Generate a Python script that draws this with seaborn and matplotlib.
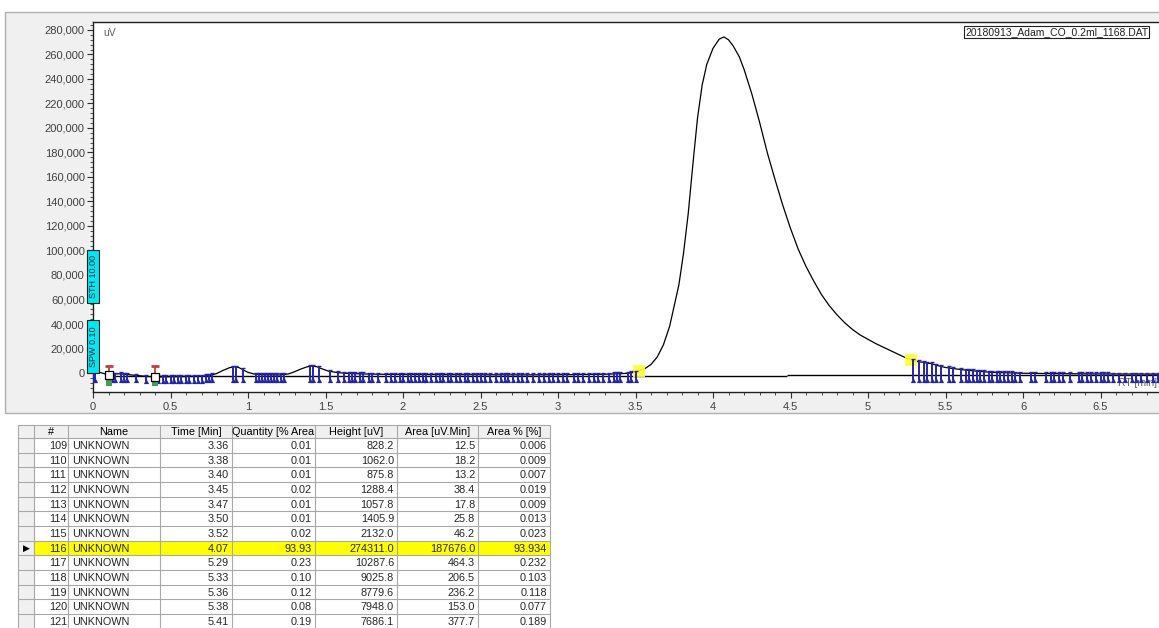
import numpy as np
import pandas as pd
import matplotlib
matplotlib.use("Agg")
import matplotlib.pyplot as plt
import seaborn as sns
from matplotlib.patches import Rectangle
from matplotlib.ticker import MultipleLocator, FuncFormatter

# ---------------- data ----------------
trace_time = [0.00, 0.02, 0.05, 0.08, 0.10, 0.13, 0.16, 0.20, 0.25, 0.30, 0.35, 0.40, 0.45,
              0.50, 0.60, 0.70, 0.76, 0.80, 0.84, 0.88, 0.91, 0.94, 0.97, 1.00, 1.04, 1.10,
              1.20, 1.26, 1.30, 1.34, 1.38, 1.41, 1.44, 1.48, 1.52, 1.58, 1.65, 1.75, 1.90,
              2.10, 2.40, 2.80, 3.10, 3.30, 3.40, 3.46, 3.50, 3.52,
              3.56, 3.60, 3.64, 3.68, 3.72, 3.75, 3.78, 3.81, 3.84, 3.87, 3.90, 3.93, 3.96,
              4.00, 4.04, 4.07, 4.10, 4.13, 4.17, 4.20, 4.25, 4.30, 4.35, 4.40, 4.45, 4.50,
              4.55, 4.60, 4.65, 4.70, 4.75, 4.80, 4.85, 4.90, 4.95, 5.00, 5.05, 5.10, 5.15,
              5.20, 5.25, 5.29,
              5.33, 5.36, 5.38, 5.41, 5.45, 5.50, 5.60, 5.70, 5.80, 6.00, 6.30, 6.60, 6.90]
trace_uv = [2000, 1000, 300, -800, -1500, -1000, -600, -900, -1600, -2200, -2800, -3200, -3200,
            -3000, -2900, -2700, -2000, -300, 2200, 4300, 5100, 4500, 2500, 500, -800, -1400,
            -1600, -800, 1000, 3200, 5000, 5700, 5300, 3300, 1500, 300, -400, -800, -1100,
            -1300, -1400, -1500, -1300, -1000, -600, -100, 600, 1900,
            3500, 7000, 13000, 23000, 38000, 55000, 72000, 98000, 130000, 170000, 208000,
            235000, 252000, 265000, 272500, 274311, 272000, 267000, 258000, 248000, 228000,
            205000, 180000, 158000, 137000, 118000, 101000, 87000, 75000, 64000, 55000,
            47500, 41000, 35500, 31000, 27500, 24000, 21000, 18000, 15000, 12000, 10288,
            9026, 8780, 7948, 7686, 6000, 4500, 2800, 1500, 500, -200, -600, -800, -900]

base_start = [0.10, 4.48]
base_end = [4.48, 6.95]
base_level = [-2500, -1900]

peak_marks = [0.00, 0.01, 0.12, 0.14, 0.18, 0.20, 0.22, 0.28, 0.34, 0.42, 0.45, 0.47, 0.50,
              0.52, 0.55, 0.57, 0.60, 0.62, 0.65, 0.68, 0.70, 0.73, 0.75, 0.77, 0.90, 0.92,
              0.97, 1.05, 1.07, 1.09, 1.11, 1.13, 1.15, 1.17, 1.19, 1.21, 1.23, 1.40, 1.42,
              1.46, 1.53, 1.58, 1.62, 1.65, 1.67, 1.69, 1.72, 1.74, 1.78, 1.80, 1.84, 1.89,
              1.92, 1.95, 1.98, 2.00, 2.03, 2.05, 2.08, 2.10, 2.13, 2.15, 2.18, 2.21, 2.24,
              2.26, 2.29, 2.31, 2.34, 2.37, 2.40, 2.42, 2.45, 2.48, 2.50, 2.53, 2.56, 2.60,
              2.63, 2.66, 2.68, 2.71, 2.74, 2.77, 2.80, 2.84, 2.88, 2.91, 2.94, 2.97, 3.00,
              3.03, 3.06, 3.10, 3.13, 3.16, 3.20, 3.23, 3.26, 3.29, 3.33, 3.36, 3.38, 3.40,
              3.45, 3.47, 3.50,
              5.29, 5.33, 5.36, 5.38, 5.41, 5.44, 5.47, 5.52, 5.55, 5.60, 5.63, 5.65, 5.68,
              5.70, 5.72, 5.75, 5.78, 5.80, 5.83, 5.85, 5.88, 5.90, 5.93, 5.95, 5.98, 6.05,
              6.08, 6.15, 6.18, 6.20, 6.23, 6.26, 6.30, 6.36, 6.38, 6.41, 6.44, 6.47, 6.50,
              6.52, 6.55, 6.58, 6.62, 6.66, 6.70, 6.73, 6.76, 6.80, 6.84, 6.87]
event_marks = [0.10, 0.40]
selected_bounds = [3.52, 5.28]

row_ids = [109, 110, 111, 112, 113, 114, 115, 116, 117, 118, 119, 120, 121]
row_names = ["UNKNOWN"] * 13
row_time = [3.36, 3.38, 3.40, 3.45, 3.47, 3.50, 3.52, 4.07, 5.29, 5.33, 5.36, 5.38, 5.41]
row_qty = [0.01, 0.01, 0.01, 0.02, 0.01, 0.01, 0.02, 93.93, 0.23, 0.10, 0.12, 0.08, 0.19]
row_height = [828.2, 1062.0, 875.8, 1288.4, 1057.8, 1405.9, 2132.0, 274311.0, 10287.6,
              9025.8, 8779.6, 7948.0, 7686.1]
row_area = [12.5, 18.2, 13.2, 38.4, 17.8, 25.8, 46.2, 187676.0, 464.3, 206.5, 236.2, 153.0, 377.7]
row_area_pct = [0.006, 0.009, 0.007, 0.019, 0.009, 0.013, 0.023, 93.934, 0.232, 0.103, 0.118,
                0.077, 0.189]
selected_id = 116
headers = ["#", "Name", "Time [Min]", "Quantity [% Area", "Height [uV]", "Area [uV.Min]",
           "Area % [%]"]

# ---------------- style ----------------
sns.set_theme(style="white")
plt.rcParams['font.family'] = ['Liberation Sans', 'DejaVu Sans']

W, H = 1159, 628
fig = plt.figure(figsize=(W / 100, H / 100), dpi=100)
fig.patch.set_facecolor('white')


def px_rect(l, t, r, b):
    return [l / W, 1 - b / H, (r - l) / W, (b - t) / H]


bg = fig.add_axes([0, 0, 1, 1], zorder=0)
bg.set_xlim(0, W)
bg.set_ylim(H, 0)
bg.axis('off')
bg.add_patch(Rectangle((5, 12), W - 4, 401, facecolor='#f0f0f0', edgecolor='#b0b0b0', lw=1))

# ---------------- chromatogram ----------------
ax = fig.add_axes(px_rect(93, 22, W, 392), zorder=2)
ax.set_facecolor('white')
df = pd.DataFrame({"RT": trace_time, "uV": trace_uv})
sns.lineplot(data=df, x="RT", y="uV", ax=ax, color='black', linewidth=0.9,
             sort=False, estimator=None)

ax.hlines(base_level, base_start, base_end, color='black', linewidth=1.0, zorder=3)

mark_top = np.interp(peak_marks, trace_time, trace_uv) + 1200
mark_base = np.interp(peak_marks, [s for s in base_start] + [base_end[-1]],
                      base_level + [base_level[-1]])
mark_bot = np.minimum(mark_base, np.interp(peak_marks, trace_time, trace_uv)) - 3500
blue = '#2424a8'
ax.vlines(peak_marks, mark_bot, mark_top, color=blue, linewidth=1.4, zorder=4)
ax.scatter(peak_marks, mark_bot, marker='^', s=14, color=blue, zorder=4, linewidths=0)
ax.scatter(peak_marks, mark_top, marker='_', s=12, color=blue, zorder=4, linewidths=1.0)

# event markers (red / green)
ev_base = np.interp(event_marks, trace_time, trace_uv)
ax.vlines(event_marks, -8000, 5500, color='#c04040', linewidth=1.3, zorder=5)
ax.scatter(event_marks, [5500] * 2, marker='_', s=30, color='#c04040', linewidths=2, zorder=5)
ax.scatter(event_marks, [-8000] * 2, marker='s', s=22, color='#40a050', zorder=5, linewidths=0)
ax.scatter(event_marks, ev_base, marker='s', s=36, facecolor='white', edgecolor='black',
           linewidths=0.9, zorder=6)

# selected peak bounds (yellow)
sel_y = np.interp(selected_bounds, trace_time, trace_uv)
ax.scatter(selected_bounds, sel_y, marker='s', s=70, color='#ffff30', alpha=0.9,
           zorder=3.5, linewidths=0)

ax.set_xlim(0, (W - 93) / 155.0)
ax.set_ylim(-15500, 286500)
ax.xaxis.set_major_locator(MultipleLocator(0.5))
ax.xaxis.set_minor_locator(MultipleLocator(0.1))
ax.yaxis.set_minor_locator(MultipleLocator(4000))
ax.xaxis.set_major_formatter(FuncFormatter(lambda v, p: f"{v:g}"))
ax.yaxis.set_major_formatter(FuncFormatter(lambda v, p: f"{v:,.0f}" if v >= 0 else ""))
ax.set_yticks([v for v in range(0, 280001, 20000)])
ax.tick_params(axis='both', which='major', direction='out', length=4, width=0.8,
               color='#303030', labelsize=8, labelcolor='#404040', pad=2)
ax.tick_params(axis='both', which='minor', direction='out', length=2, width=0.6,
               color='#303030')
ax.tick_params(axis='x', which='major', pad=3)
ax.tick_params(axis='y', which='both', left=True)
ax.tick_params(axis='x', which='both', bottom=True)
ax.set_xlabel("")
ax.set_ylabel("")
for side in ['left', 'top', 'bottom']:
    ax.spines[side].set_visible(True)
    ax.spines[side].set_color('#202020')
    ax.spines[side].set_linewidth(1.0)
ax.spines['right'].set_visible(False)

ax.text(10 / (W - 93), 1 - 11 / 370, "uV", transform=ax.transAxes, fontsize=7.5,
        color='#606060', va='center', ha='left')
ax.text(1 - 2 / (W - 93), 1 - 361 / 370, "RT [min]", transform=ax.transAxes,
        fontsize=7.5, color='#606060', va='center', ha='right')
ax.text((965 - 93) / (W - 93), 1 - 10 / 370, "20180913_Adam_CO_0.2ml_1168.DAT",
        transform=ax.transAxes, fontsize=7.5, color='#202020', va='center', ha='left',
        bbox=dict(boxstyle='square,pad=0.1', facecolor='white', edgecolor='#202020', lw=0.8))

# cyan threshold boxes
for y0, y1, lab in [(57000, 100000, "STH 10.00"), (0, 43000, "SPW 0.10")]:
    ax.add_patch(Rectangle((-0.039, y0), 0.078, y1 - y0, facecolor='#00e8f0',
                           edgecolor='#202020', lw=0.8, clip_on=False, zorder=6))
    ax.text(0.0, (y0 + y1) / 2, lab, rotation=90, fontsize=6.5, color='#202040',
            ha='center', va='center', clip_on=False, zorder=7)

# ---------------- table ----------------
col_x = [18, 34, 68, 160, 232, 315, 397, 478, 550]
head_top, head_bot, row_h = 425, 438, 14.67
grid = '#a8a8a8'
n_rows = len(row_ids)
tbl_bottom = head_bot + row_h * n_rows
bg.add_patch(Rectangle((col_x[0], head_top), col_x[-1] - col_x[0], head_bot - head_top,
                       facecolor='#f0f0f0', edgecolor='none'))
bg.add_patch(Rectangle((col_x[0], head_bot), col_x[1] - col_x[0], tbl_bottom - head_bot,
                       facecolor='#f0f0f0', edgecolor='none'))
fs = 7.8
for j, h in enumerate(headers):
    cx = (col_x[j + 1] + col_x[j + 2]) / 2
    t = bg.text(cx, (head_top + head_bot) / 2 + 0.5, h, fontsize=fs, ha='center',
                va='center', color='black')
    t.set_clip_path(Rectangle((col_x[j + 1], head_top), col_x[j + 2] - col_x[j + 1] - 1,
                              head_bot - head_top, transform=bg.transData))

for i in range(n_rows):
    top = head_bot + i * row_h
    cy = top + row_h / 2 + 0.5
    if row_ids[i] == selected_id:
        bg.add_patch(Rectangle((col_x[1], top), col_x[-1] - col_x[1], row_h,
                               facecolor='#ffff00', edgecolor='none'))
        bg.text(26, cy, "\u25B6", fontsize=6.5, ha='center', va='center', color='black',
                family='DejaVu Sans')
    vals = [str(row_ids[i]), row_names[i], f"{row_time[i]:.2f}", f"{row_qty[i]:.2f}",
            f"{row_height[i]:.1f}", f"{row_area[i]:.1f}", f"{row_area_pct[i]:.3f}"]
    bg.text(col_x[1] + 24, cy, vals[0], fontsize=fs, ha='center', va='center')
    bg.text(col_x[2] + 4, cy, vals[1], fontsize=fs, ha='left', va='center')
    for j in range(2, 7):
        bg.text(col_x[j + 2] - 3, cy, vals[j], fontsize=fs, ha='right', va='center')

# grid lines
for k in range(n_rows + 1):
    y = head_bot + k * row_h
    bg.plot([col_x[0], col_x[-1]], [y, y], color=grid, lw=0.8)
bg.plot([col_x[0], col_x[-1]], [head_top, head_top], color=grid, lw=0.8)
for x in col_x:
    bg.plot([x, x], [head_top, tbl_bottom], color=grid, lw=0.8)

fig.savefig("out.png", dpi=100, facecolor='white')
